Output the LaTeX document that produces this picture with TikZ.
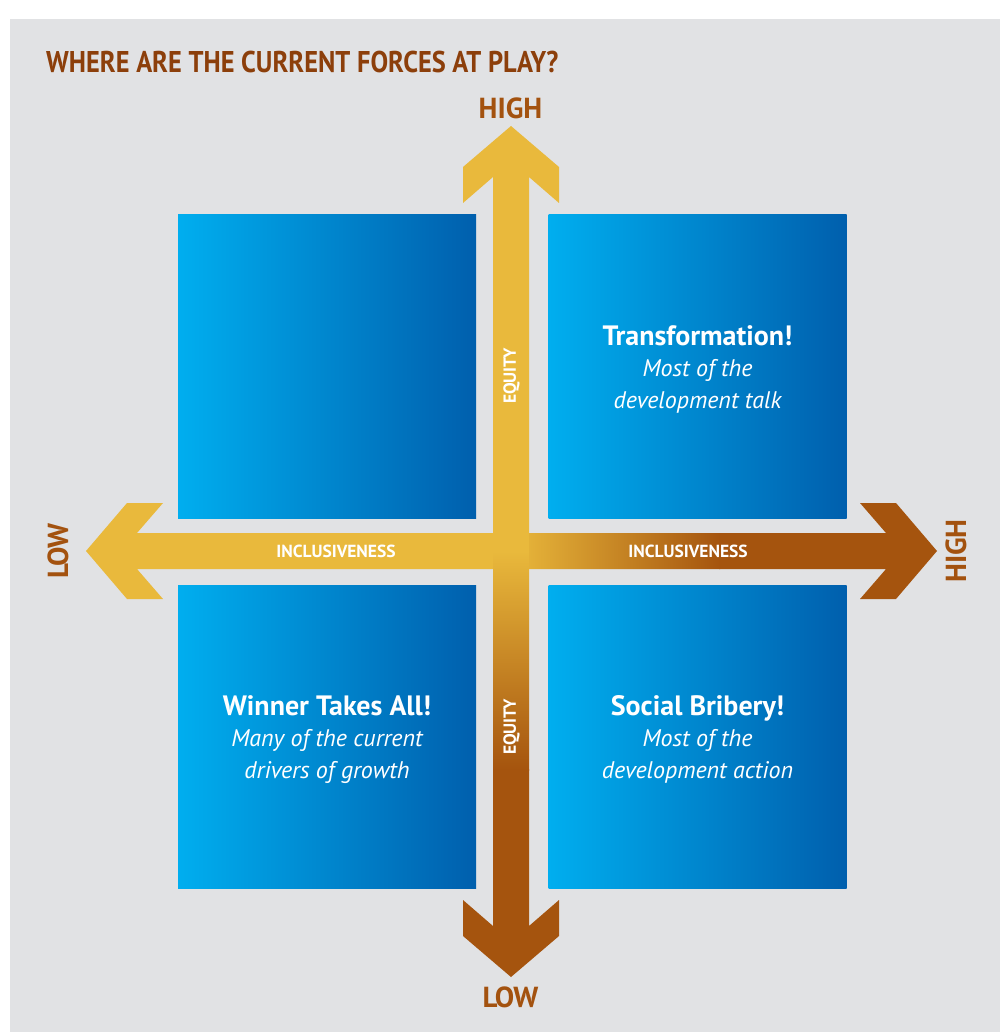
\documentclass[tikz,border=0pt]{standalone}
\usepackage{fontspec}
\setmainfont{PT Sans}
\newfontfamily\condfont[FakeStretch=0.88]{PT Sans}
\definecolor{bggray}{HTML}{E1E2E4}
\definecolor{axyellow}{HTML}{E9B93C}
\definecolor{axbrown}{HTML}{A5540E}
\definecolor{titlebrown}{HTML}{8C3F0B}
\definecolor{labelbrown}{HTML}{A3520F}
\definecolor{blueL}{HTML}{00AEEF}
\definecolor{blueD}{HTML}{005FAD}
\tikzset{
  quadbox/.style={minimum width=298pt, minimum height=303pt, inner sep=0pt, left color=blueL, right color=blueD, draw=none},
  axlabel/.style={text=white, font=\bfseries\fontsize{17.5}{17.5}\selectfont, inner sep=0pt},
  axend/.style={text=labelbrown, font=\bfseries\fontsize{29}{29}\selectfont, inner sep=0pt},
  boxhead/.style={text=white, font=\bfseries\fontsize{28}{28}\selectfont, inner sep=0pt, anchor=base},
  boxsub/.style={text=white, font=\itshape\fontsize{24}{24}\selectfont, inner sep=0pt, anchor=base},
}
\begin{document}
\begin{tikzpicture}[x=1pt,y=-1pt]
\useasboundingbox (0,0) rectangle (1000,1032);
\fill[white] (0,0) rectangle (1000,1032);
\fill[bggray] (10,19) rectangle (1000,1032);
% title
\node[text=titlebrown, font=\condfont\bfseries\fontsize{30}{30}\selectfont, inner sep=0pt, anchor=base west] (title) at (46,73) {WHERE ARE THE CURRENT FORCES AT PLAY?};
% quadrant boxes
\node[quadbox] (ul) at (327,366.5) {};
\node[quadbox] (ur) at (697.5,366.5) {};
\node[quadbox] (ll) at (327,737) {};
\node[quadbox] (lr) at (697.5,737) {};
% horizontal axis arrow
\begin{scope}
\clip (86,551) -- (127,503) -- (163,503) -- (137,533) -- (886,533) -- (860,503) -- (896,503) -- (937,551) -- (896,599) -- (860,599) -- (886,569) -- (137,569) -- (163,599) -- (127,599) -- cycle;
\fill[axyellow] (80,495) rectangle (512,605);
\shade[left color=axyellow, right color=axbrown] (511,495) rectangle (720,605);
\fill[axbrown] (719,495) rectangle (940,605);
\end{scope}
% vertical axis arrow
\begin{scope}
\clip (511,126) -- (559,167) -- (559,203) -- (529,177) -- (529,926) -- (559,900) -- (559,936) -- (511,977) -- (463,936) -- (463,900) -- (493,926) -- (493,177) -- (463,203) -- (463,167) -- cycle;
\fill[axyellow] (455,120) rectangle (565,552);
\shade[top color=axyellow, bottom color=axbrown] (455,551) rectangle (565,770);
\fill[axbrown] (455,769) rectangle (565,980);
\end{scope}
% axis labels
\node[axlabel, rotate=90] (eqU) at (511.5,376) {EQUITY};
\node[axlabel, rotate=90] (eqL) at (511.5,727) {EQUITY};
\node[axlabel] (incL) at (336,551) {INCLUSIVENESS};
\node[axlabel] (incR) at (688,551) {INCLUSIVENESS};
\node[axend, anchor=base] (hiT) at (510.5,119) {HIGH};
\node[axend, anchor=base] (loB) at (510.5,1007) {LOW};
\node[axend, rotate=90] (loL) at (58,551) {LOW};
\node[axend, rotate=90] (hiR) at (956,551) {HIGH};
% box texts
\node[boxhead] (urh) at (697.5,345) {Transformation!};
\node[boxsub] (ur1) at (697.5,376) {Most of the};
\node[boxsub] (ur2) at (697.5,408) {development talk};
\node[boxhead] (llh) at (327,715) {Winner Takes All!};
\node[boxsub] (ll1) at (327,746) {Many of the current};
\node[boxsub] (ll2) at (327,778) {drivers of growth};
\node[boxhead] (lrh) at (697.5,715) {Social Bribery!};
\node[boxsub] (lr1) at (697.5,746) {Most of the};
\node[boxsub] (lr2) at (697.5,778) {development action};
\end{tikzpicture}
\end{document}
